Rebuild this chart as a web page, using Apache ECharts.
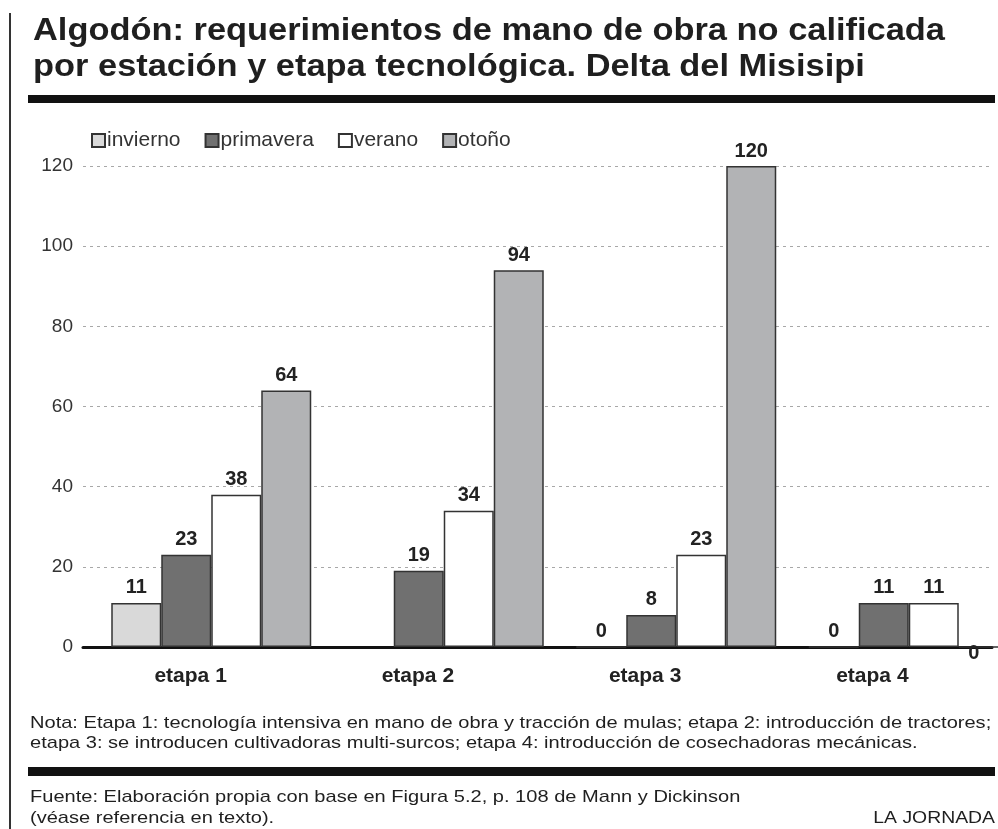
<!DOCTYPE html>
<html><head><meta charset="utf-8">
<script src="https://cdn.jsdelivr.net/npm/echarts@6/dist/echarts.min.js"></script>
<style>html,body{margin:0;padding:0;background:#fff}#c{width:998px;height:829px}</style>
</head><body><div id="c"></div>
<script>
const categories = ['etapa 1', 'etapa 2', 'etapa 3', 'etapa 4'];
const seriesNames = ['invierno', 'primavera', 'verano', 'otoño'];
const invierno = [11, null, 0, 0];
const primavera = [23, 19, 8, 11];
const verano = [38, 34, 23, 11];
const otono = [64, 94, 120, 0];
const yTicks = [0, 20, 40, 60, 80, 100, 120];

const titleLines = ['Algodón: requerimientos de mano de obra no calificada', 'por estación y etapa tecnológica. Delta del Misisipi'];
const noteLines = ['Nota: Etapa 1: tecnología intensiva en mano de obra y tracción de mulas; etapa 2: introducción de tractores;', 'etapa 3: se introducen cultivadoras multi-surcos; etapa 4: introducción de cosechadoras mecánicas.'];
const sourceLines = ['Fuente: Elaboración propia con base en Figura 5.2, p. 108 de Mann y Dickinson', '(véase referencia en texto).'];
const credit = 'LA JORNADA';

const colors = ['#d9d9d9', '#707070', '#ffffff', '#b2b3b5'];
const FONT = '"Liberation Sans", Arial, Helvetica, sans-serif';
const values = [invierno, primavera, verano, otono];

const chart = echarts.init(document.getElementById('c'), null, {renderer: 'canvas'});

const series = seriesNames.map((name, si) => ({
  name, type: 'bar', xAxisIndex: 1, yAxisIndex: 1,
  barWidth: 50, barGap: '0%',
  itemStyle: {color: colors[si], borderColor: '#333', borderWidth: 1.5},
  label: {show: true, position: 'top', distance: 5, fontFamily: FONT, fontSize: 20, fontWeight: 'bold', color: '#222'},
  data: values[si].map((v, i) => (si === 3 && v === 0) ? {value: v, label: {offset: [-10, 22]}} : v)
}));

function txt(x, y, text, font, sx, align) {
  return {type: 'text', x, y, scaleX: sx, z: 10,
    style: {text, font, fill: '#1f1f1f', textAlign: align || 'left', textVerticalAlign: 'top', verticalAlign: 'top'}};
}

const graphics = [
  {type: 'rect', shape: {x: 9, y: 13, width: 2, height: 829}, style: {fill: '#333'}},
  {type: 'rect', shape: {x: 28, y: 95, width: 967, height: 8}, style: {fill: '#111'}},
  {type: 'rect', shape: {x: 28, y: 767, width: 967, height: 9}, style: {fill: '#111'}},
  txt(33, 16, titleLines[0], 'bold 31px ' + FONT, 1.11),
  txt(33, 52, titleLines[1], 'bold 31px ' + FONT, 1.11),
  txt(30, 715, noteLines[0], '17px ' + FONT, 1.18),
  txt(30, 735, noteLines[1], '17px ' + FONT, 1.18),
  txt(30, 789, sourceLines[0], '17px ' + FONT, 1.18),
  txt(30, 810, sourceLines[1], '17px ' + FONT, 1.18),
  txt(995, 810, credit, '17px ' + FONT, 1.14, 'right')
];

chart.setOption({
  animation: false,
  backgroundColor: '#fff',
  graphic: graphics,
  legend: {
    left: 86, top: 125, itemWidth: 13, itemHeight: 13, itemGap: 24,
    icon: 'rect', data: seriesNames,
    textStyle: {fontFamily: FONT, fontSize: 21, color: '#333', padding: [0, 0, 0, -3]}
  },
  grid: [
    {left: 83, right: 6, top: 166, bottom: 182},
    {left: 95, width: 930, top: 166, bottom: 182, outerBoundsMode: 'none', containLabel: false}
  ],
  xAxis: [
    {type: 'category', gridIndex: 0, data: categories,
     axisLine: {show: true, lineStyle: {color: '#111', width: 3}}, axisTick: {show: false},
     axisLabel: {fontFamily: FONT, fontSize: 21, fontWeight: 'bold', color: '#222', margin: 19, padding: [0, 12, 0, 0]}},
    {type: 'category', gridIndex: 1, data: categories, show: false}
  ],
  yAxis: [
    {type: 'value', gridIndex: 0, min: yTicks[0], max: yTicks[yTicks.length - 1], interval: 20,
     axisLine: {show: false}, axisTick: {show: false},
     axisLabel: {fontFamily: FONT, fontSize: 19, color: '#333', margin: 10},
     splitLine: {show: true, lineStyle: {color: '#a8a8a8', width: 1, type: [3, 4]}}},
    {type: 'value', gridIndex: 1, min: yTicks[0], max: yTicks[yTicks.length - 1], interval: 20, show: false,
     splitLine: {show: false}}
  ],
  series
});
</script></body></html>
